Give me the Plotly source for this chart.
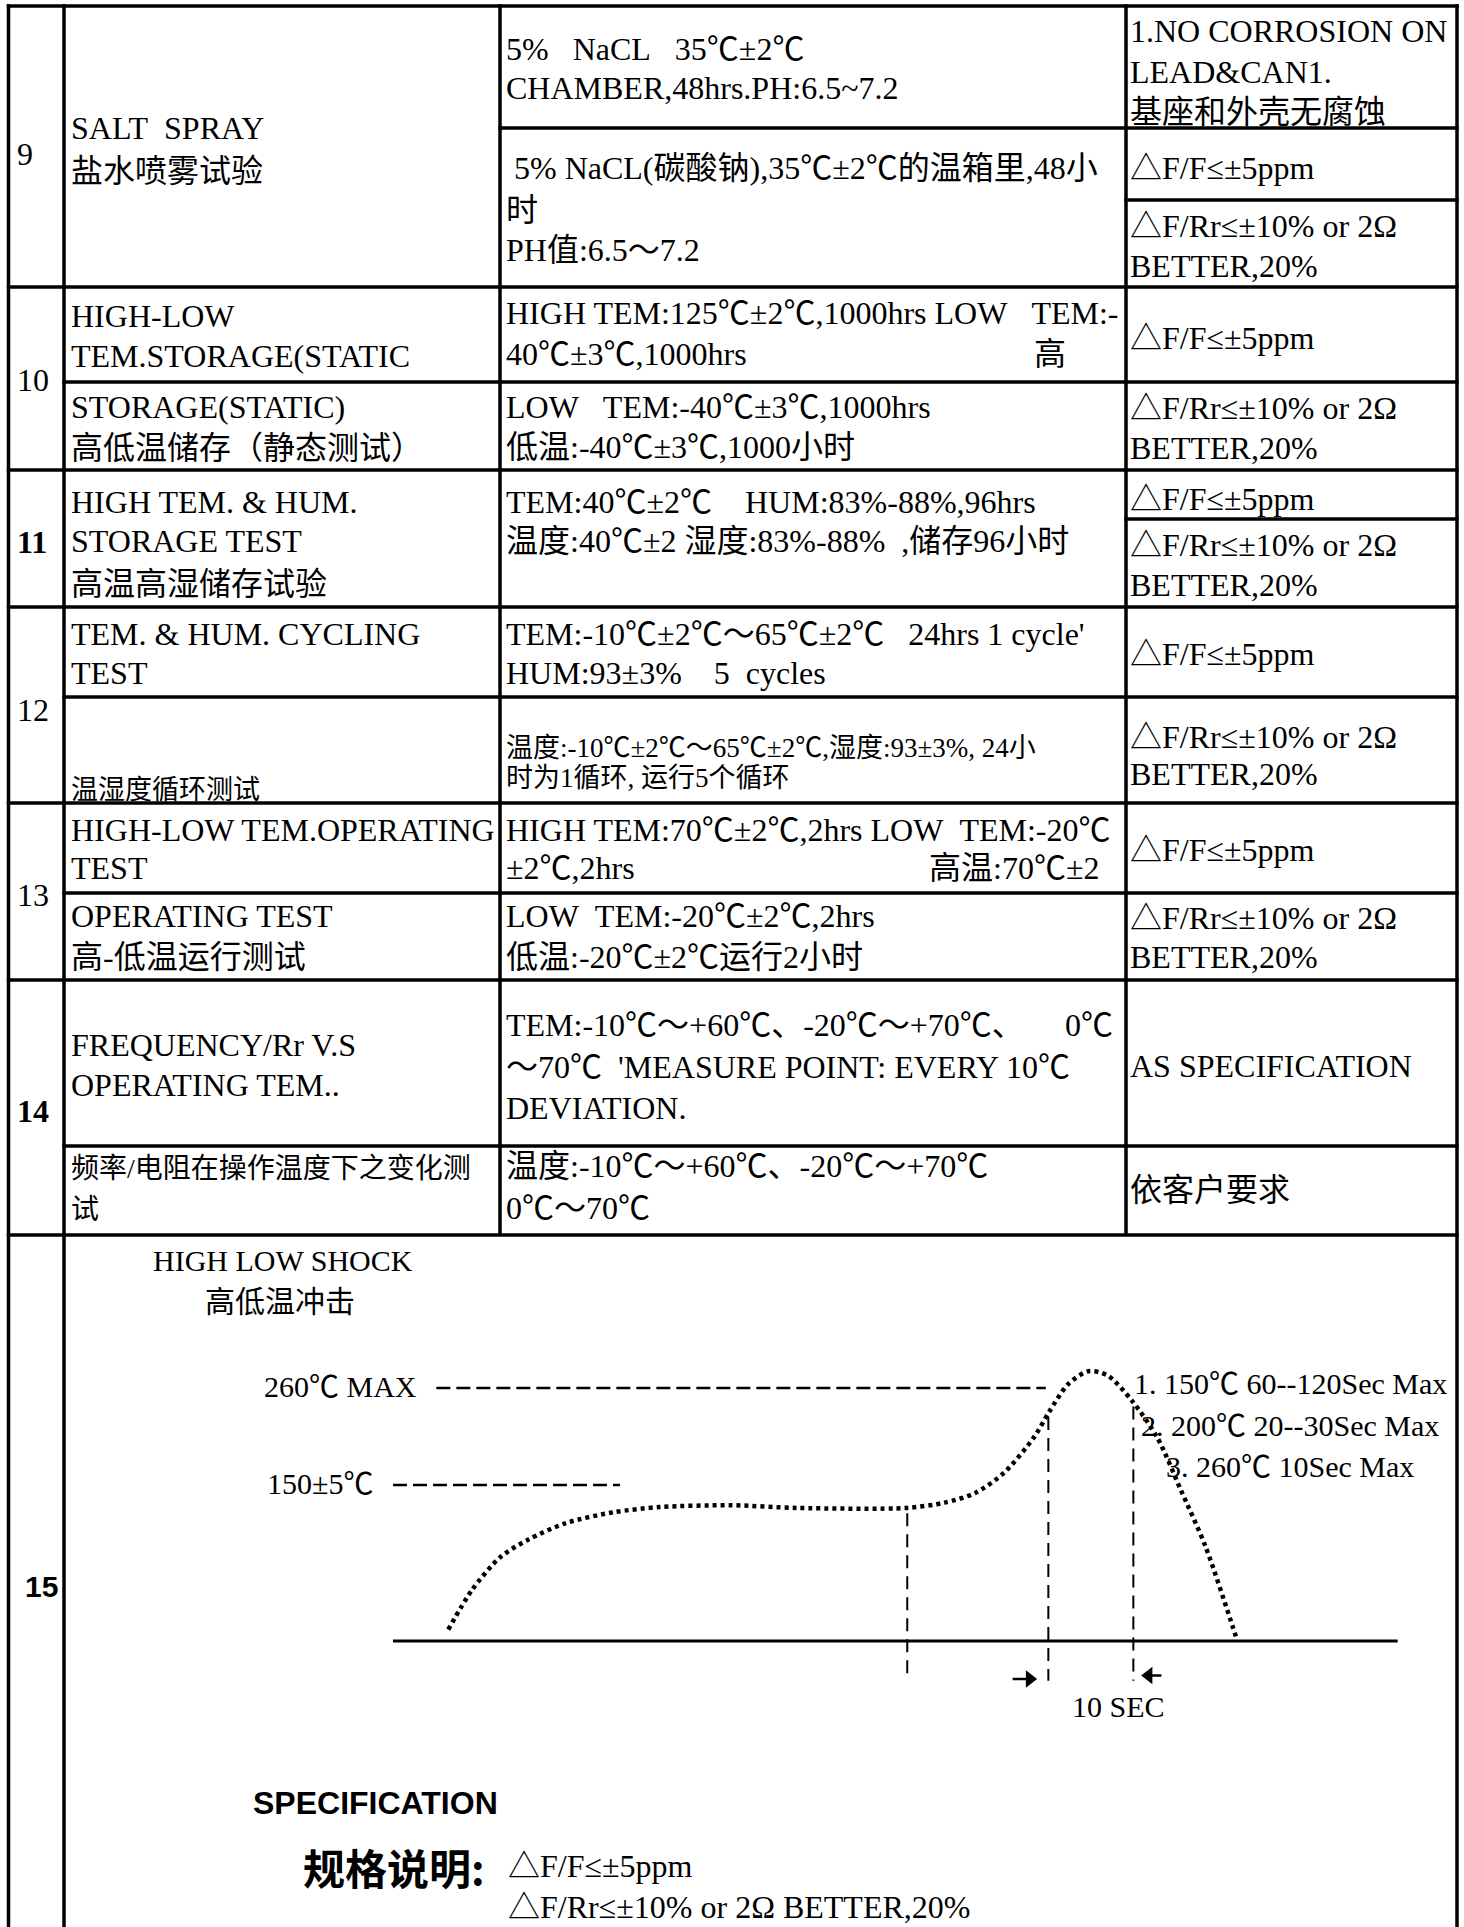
import plotly.graph_objects as go

W, H = 1464, 1927
SERIF = "Liberation Serif, Noto Sans CJK SC, serif"
SANS = "Liberation Sans, Arial, sans-serif"
CJK = "Noto Sans CJK SC, sans-serif"
NB = "\u00a0"

# ---------------- data: table text ----------------
ROW_NUMBERS = ["9", "10", "11", "12", "13", "14", "15"]
ROW_NUMBER_BOLD = [False, False, True, False, False, True, True]

TEST_ITEMS = [
    ["SALT" + NB * 2 + "SPRAY", "盐水喷雾试验"],
    ["HIGH-LOW", "TEM.STORAGE(STATIC"],
    ["STORAGE(STATIC)", "高低温储存（静态测试）"],
    ["HIGH TEM. & HUM.", "STORAGE TEST", "高温高湿储存试验"],
    ["TEM. & HUM. CYCLING", "TEST"],
    ["温湿度循环测试"],
    ["HIGH-LOW TEM.OPERATING", "TEST"],
    ["OPERATING TEST", "高-低温运行测试"],
    ["FREQUENCY/Rr V.S", "OPERATING TEM.."],
    ["频率/电阻在操作温度下之变化测", "试"],
]

CONDITIONS = [
    ["5%" + NB * 3 + "NaCL" + NB * 3 + "35℃±2℃", "CHAMBER,48hrs.PH:6.5~7.2"],
    [NB + "5% NaCL(碳酸钠),35℃±2℃的温箱里,48小", "时", "PH值:6.5～7.2"],
    ["HIGH TEM:125℃±2℃,1000hrs LOW" + NB * 3 + "TEM:-", "40℃±3℃,1000hrs"],
    ["LOW" + NB * 3 + "TEM:-40℃±3℃,1000hrs", "低温:-40℃±3℃,1000小时"],
    ["TEM:40℃±2℃", "温度:40℃±2 湿度:83%-88%" + NB * 2 + ",储存96小时"],
    ["TEM:-10℃±2℃～65℃±2℃" + NB * 3 + "24hrs 1 cycle'", "HUM:93±3%" + NB * 4 + "5" + NB * 2 + "cycles"],
    ["温度:-10℃±2℃～65℃±2℃,湿度:93±3%, 24小", "时为1循环, 运行5个循环"],
    ["HIGH TEM:70℃±2℃,2hrs LOW" + NB * 2 + "TEM:-20℃", "±2℃,2hrs"],
    ["LOW" + NB * 2 + "TEM:-20℃±2℃,2hrs", "低温:-20℃±2℃运行2小时"],
    ["TEM:-10℃～+60℃、-20℃～+70℃、", "～70℃" + NB * 2 + "'MEASURE POINT: EVERY 10℃", "DEVIATION."],
    ["温度:-10℃～+60℃、-20℃～+70℃", "0℃～70℃"],
]
# fragments of condition cells that sit apart from the left column of text
CONDITION_EXTRAS = ["高", "HUM:83%-88%,96hrs", "高温:70℃±2", "0℃"]

SPEC_FF = "△F/F≤±5ppm"
SPEC_RR = ["△F/Rr≤±10% or 2Ω", "BETTER,20%"]
REQUIREMENTS = [
    ["1.NO CORROSION ON", "LEAD&CAN1.", "基座和外壳无腐蚀"],
    [SPEC_FF], SPEC_RR,
    [SPEC_FF], SPEC_RR,
    [SPEC_FF], SPEC_RR,
    [SPEC_FF], SPEC_RR,
    [SPEC_FF], SPEC_RR,
    ["AS SPECIFICATION"], ["依客户要求"],
]

# ---------------- data: reflow / shock profile (row 15) ----------------
PROFILE_TIME_S = [6.5, 9.3, 12.6, 15.9, 20.4, 25.9, 31.4, 39.8, 47.6, 60.4, 64.9,
                  68.5, 71.9, 75.4, 77.2, 79.4, 81.8, 84.1, 86.9, 89.9, 92.7,
                  95.6, 98.8, 99.3]
PROFILE_TEMP_C = [-14, 31, 68, 88, 107, 119, 125, 127, 124, 124, 130,
                  141, 164, 204, 233, 264, 279, 274, 246, 204, 144,
                  80, -11, -26]
LEVEL_TEMPS_C = [260, 150]
LEVEL_LABELS = ["260℃ MAX", "150±5℃"]
LEVEL_SPANS_S = [(5.1, 76.8), (0.0, 26.7)]
BASE_TEMP_C = -27
BASE_SPAN_S = (0.0, 118.2)
MARK_TIMES_S = [60.5, 77.1, 87.1]
MARK_TOP_C = [118, 227, 239]
MARK_BOTTOM_C = -72
PROFILE_NOTES = ["1. 150℃ 60--120Sec Max", "2. 200℃ 20--30Sec Max", "3. 260℃ 10Sec Max"]
SHOCK_TITLE = ["HIGH LOW SHOCK", "高低温冲击"]
INTERVAL_LABEL = "10 SEC"
SPEC_TITLE = "SPECIFICATION"
SPEC_CN = "规格说明:"
SPEC_LINES = [SPEC_FF, "△F/Rr≤±10% or 2Ω BETTER,20%"]

# ---------------- layout geometry (pixels) ----------------
XL = [8.5, 64, 500, 1126, 1457]          # vertical rules
GRID_BOTTOM = 1235
H_RULES = [  # (y, from column line, to column line)
    (6, 0, 4), (128, 2, 4), (200, 3, 4), (287, 0, 4), (382, 1, 4), (470, 0, 4),
    (519, 3, 4), (607, 0, 4), (697, 1, 4), (803, 0, 4), (893, 1, 4), (980, 0, 4),
    (1146, 1, 4), (1235, 0, 4),
]
V_RULES = [(0, 6, H), (1, 6, H), (2, 6, GRID_BOTTOM), (3, 6, GRID_BOTTOM), (4, 6, H)]

ROWNUM_Y = [154, 380, 542, 710, 895, 1111, 1586]
ITEM_Y = [[128, 171], [316, 356], [407, 448], [502, 541, 584], [634, 673], [790],
          [830, 868], [916, 957], [1045, 1085], [1168, 1209]]
ITEM_SIZE = [32, 32, 32, 32, 32, 27, 32, 32, 32, 28]
COND_Y = [[49, 88], [168, 210, 250], [313, 354], [407, 447], [502, 541], [634, 673],
          [748, 778], [830, 868], [916, 957], [1025, 1067, 1108], [1166, 1208]]
COND_SIZE = [32, 32, 32, 32, 32, 32, 27, 32, 32, 32, 32]
COND_EXTRA_POS = [(1050, 354, "center"), (744, 502, "left"), (1100, 868, "right"), (1114, 1025, "right")]
REQ_Y = [[31, 72, 112], [168], [226, 266], [338], [408, 448], [499], [545, 585],
         [654], [737, 774], [850], [918, 957], [1066], [1190]]

fig = go.Figure()

def text(x, y, s, size=32, anchor="left", family=SERIF):
    fig.add_annotation(x=x, y=y, xref="x", yref="y", text=s, showarrow=False,
                       xanchor=anchor, yanchor="middle", align=anchor,
                       borderpad=0, font=dict(family=family, size=size, color="black"))

# table rules
shapes = []
for y, a, b in H_RULES:
    shapes.append(dict(type="line", xref="x", yref="y", x0=XL[a] - 1.7, x1=XL[b] + 1.7,
                       y0=y, y1=y, line=dict(color="black", width=3.5)))
for i, y0, y1 in V_RULES:
    shapes.append(dict(type="line", xref="x", yref="y", x0=XL[i], x1=XL[i],
                       y0=y0 - 1.7, y1=y1, line=dict(color="black", width=3.5)))
fig.update_layout(shapes=shapes)

# row numbers
for i, (s, b) in enumerate(zip(ROW_NUMBERS, ROW_NUMBER_BOLD)):
    if s == "15":
        text(24, ROWNUM_Y[i], "<b>" + s + "</b>", 30, family=SANS)
    else:
        text(16, ROWNUM_Y[i], ("<b>%s</b>" % s) if b else s, 32)

for cell, ys, sz in zip(TEST_ITEMS, ITEM_Y, ITEM_SIZE):
    for line, y in zip(cell, ys):
        text(70, y, line, sz)
for cell, ys, sz in zip(CONDITIONS, COND_Y, COND_SIZE):
    for line, y in zip(cell, ys):
        text(505, y, line, sz)
for s, (x, y, a) in zip(CONDITION_EXTRAS, COND_EXTRA_POS):
    text(x, y, s, 32, anchor=a)
for cell, ys in zip(REQUIREMENTS, REQ_Y):
    for line, y in zip(cell, ys):
        text(1129, y, line, 32)

# ---------------- row 15 chart ----------------
T0_PX, SEC_PX = 393.0, 8.5          # time axis: px of t=0, px per second
T150_PX, DEG_PX = 1485.0, 97.0 / 110 # temp axis: px of 150C, px per degree
def tx(t): return T0_PX + SEC_PX * t
def ty(c): return T150_PX - (c - 150) * DEG_PX
XR, YR = (-1, 120), (-100, 360)
fig.update_layout(
    xaxis2=dict(domain=[tx(XR[0]) / W, tx(XR[1]) / W], range=list(XR), visible=False,
                anchor="y2", fixedrange=True),
    yaxis2=dict(domain=[1 - ty(YR[0]) / H, 1 - ty(YR[1]) / H], range=list(YR), visible=False,
                anchor="x2", fixedrange=True),
)

fig.add_trace(go.Scatter(x=list(BASE_SPAN_S), y=[BASE_TEMP_C] * 2, xaxis="x2", yaxis="y2",
                         mode="lines", line=dict(color="black", width=3), hoverinfo="skip"))
for lv, (a, b) in zip(LEVEL_TEMPS_C, LEVEL_SPANS_S):
    fig.add_trace(go.Scatter(x=[a, b], y=[lv, lv], xaxis="x2", yaxis="y2", mode="lines",
                             line=dict(color="black", width=2.5, dash="14px,6px"), hoverinfo="skip"))
for t, top in zip(MARK_TIMES_S, MARK_TOP_C):
    fig.add_trace(go.Scatter(x=[t, t], y=[top, MARK_BOTTOM_C], xaxis="x2", yaxis="y2", mode="lines",
                             line=dict(color="black", width=2, dash="13px,8px"), hoverinfo="skip"))
fig.add_trace(go.Scatter(x=PROFILE_TIME_S, y=PROFILE_TEMP_C, xaxis="x2", yaxis="y2", mode="lines",
                         line=dict(color="black", width=4.5, dash="4px,4px", shape="spline",
                                   smoothing=0.8), hoverinfo="skip"))

# interval arrows (10 SEC), drawn on the time/temperature axes
ARROW_R_C, ARROW_L_C = -70, -66
fig.add_trace(go.Scatter(x=[72.9, 74.6], y=[ARROW_R_C] * 2, xaxis="x2", yaxis="y2",
                         mode="lines", line=dict(color="black", width=2.5), hoverinfo="skip"))
fig.add_trace(go.Scatter(x=[74.9], y=[ARROW_R_C], xaxis="x2", yaxis="y2", mode="markers",
                         marker=dict(symbol="triangle-right", size=15, color="black"), hoverinfo="skip"))
fig.add_trace(go.Scatter(x=[88.9], y=[ARROW_L_C], xaxis="x2", yaxis="y2", mode="markers",
                         marker=dict(symbol="triangle-left", size=15, color="black"), hoverinfo="skip"))
fig.add_trace(go.Scatter(x=[89.2, 90.4], y=[ARROW_L_C] * 2, xaxis="x2", yaxis="y2", mode="lines",
                         line=dict(color="black", width=2.5), hoverinfo="skip"))

text(152, 1260, SHOCK_TITLE[0], 30)
text(204, 1301, SHOCK_TITLE[1], 30)
for lab, lv, x in zip(LEVEL_LABELS, LEVEL_TEMPS_C, [263, 266]):
    text(x, ty(lv) - 2, lab, 30)
for note, y, x in zip(PROFILE_NOTES, [1383, 1425, 1466], [1133, 1140, 1165]):
    text(x, y, note, 30)
text(1071, 1706, INTERVAL_LABEL, 30)
text(252, 1803, "<b>" + SPEC_TITLE + "</b>", 32, family=SANS)
text(302, 1866, "<b>" + SPEC_CN + "</b>", 42, family=CJK)
text(507, 1866, SPEC_LINES[0], 32)
text(507, 1907, SPEC_LINES[1], 32)

fig.update_layout(
    width=W, height=H, margin=dict(l=0, r=0, t=0, b=0),
    paper_bgcolor="white", plot_bgcolor="rgba(0,0,0,0)", showlegend=False,
    xaxis=dict(range=[0, W], visible=False, domain=[0, 1], fixedrange=True),
    yaxis=dict(range=[H, 0], visible=False, domain=[0, 1], fixedrange=True),
)

fig.write_html("out.html", config={"displayModeBar": False},
               post_script="document.body.style.margin='0';document.body.style.overflow='hidden';")
